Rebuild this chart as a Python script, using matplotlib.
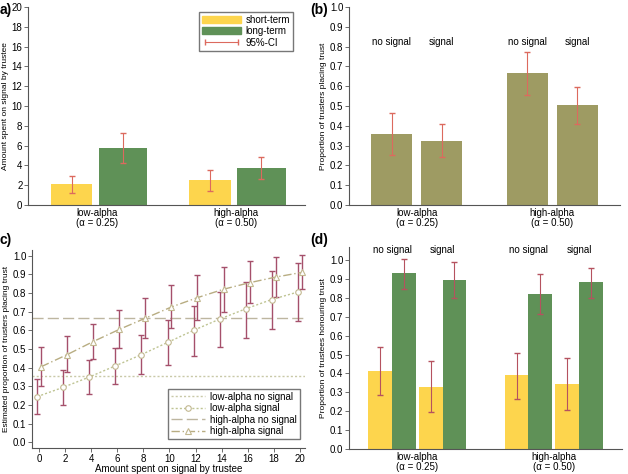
import numpy as np
import matplotlib.pyplot as plt
from matplotlib.lines import Line2D
from matplotlib.patches import Patch

plt.rcParams['font.family'] = ['Liberation Sans', 'DejaVu Sans']
plt.rcParams['font.size'] = 7

# Dados do painel a
grupos = ['low-alpha\n(\u03b1 = 0.25)', 'high-alpha\n(\u03b1 = 0.50)']
a_curto = [2.1, 2.5]
a_curto_ic = [(1.2, 2.9), (1.4, 3.5)]
a_longo = [5.8, 3.75]
a_longo_ic = [(4.2, 7.25), (2.6, 4.85)]

# Dados do painel b (no signal, signal) por grupo
sinais = ['no signal', 'signal']
b_val = [0.36, 0.325, 0.665, 0.505]
b_ic = [(0.25, 0.465), (0.24, 0.41), (0.555, 0.775), (0.41, 0.595)]

# Dados do painel c
gasto = [0, 2, 4, 6, 8, 10, 12, 14, 16, 18, 20]
c_baixo = [0.245, 0.295, 0.35, 0.41, 0.47, 0.535, 0.60, 0.66, 0.715, 0.765, 0.805]
c_baixo_inf = [0.15, 0.20, 0.26, 0.315, 0.365, 0.415, 0.465, 0.51, 0.56, 0.605, 0.65]
c_baixo_sup = [0.34, 0.39, 0.44, 0.505, 0.575, 0.655, 0.73, 0.805, 0.86, 0.92, 0.96]
c_alto = [0.405, 0.47, 0.54, 0.605, 0.665, 0.725, 0.775, 0.82, 0.855, 0.885, 0.91]
c_alto_inf = [0.30, 0.375, 0.445, 0.505, 0.56, 0.61, 0.655, 0.70, 0.745, 0.78, 0.82]
c_alto_sup = [0.51, 0.57, 0.635, 0.71, 0.775, 0.84, 0.895, 0.94, 0.97, 0.995, 1.005]
c_baixo_sem = 0.357
c_alto_sem = 0.665

# Dados do painel d: (short-term, long-term) para cada condição
d_curto = [0.415, 0.33, 0.39, 0.345]
d_curto_ic = [(0.285, 0.54), (0.195, 0.465), (0.265, 0.51), (0.205, 0.48)]
d_longo = [0.93, 0.895, 0.82, 0.885]
d_longo_ic = [(0.85, 1.005), (0.80, 0.99), (0.715, 0.925), (0.80, 0.96)]

amarelo = '#fdd54d'
verde = '#5f9157'
oliva = '#9e9b63'
vermelho = '#dc6a5e'
bordo = '#a5506b'


def erros(vals, ics):
    vals = np.array(vals)
    inf = np.array([i[0] for i in ics])
    sup = np.array([i[1] for i in ics])
    return np.vstack([vals - inf, sup - vals])


def estilo(ax):
    ax.spines['top'].set_visible(False)
    ax.spines['right'].set_visible(False)
    ax.spines['left'].set_color('#555555')
    ax.spines['bottom'].set_color('#555555')
    ax.tick_params(direction='out', length=3, width=0.6, color='#555555', labelsize=7, pad=1)


def rotulos_x(ax):
    ax.set_xticks(pos)
    ax.set_xticklabels(grupos, linespacing=1.05)
    ax.tick_params(axis='x', length=0, pad=2)


fig = plt.figure(figsize=(6.28, 4.74), dpi=100)
W, H = 628, 474


def eixo(esq, dir_, topo, base):
    return fig.add_axes([esq / W, 1 - base / H, (dir_ - esq) / W, (base - topo) / H])


pos = np.array([0, 1])
desl = 0.185
ticks01 = np.arange(0, 1.01, 0.1)
rot01 = [f'{v:.1f}' for v in ticks01]

# Painel a
ax = eixo(28, 305, 7, 205)
estilo(ax)
ax.bar(pos - desl, a_curto, width=0.3, color=amarelo)
ax.bar(pos + desl, a_longo, width=0.35, color=verde)
ax.errorbar(pos - desl, a_curto, yerr=erros(a_curto, a_curto_ic), fmt='none', ecolor=vermelho, elinewidth=0.8, capsize=2)
ax.errorbar(pos + desl, a_longo, yerr=erros(a_longo, a_longo_ic), fmt='none', ecolor=vermelho, elinewidth=0.8, capsize=2)
ax.set_xlim(-0.5, 1.5)
ax.set_ylim(0, 20)
ax.set_yticks(range(0, 21, 2))
rotulos_x(ax)
ax.set_ylabel('Amount spent on signal by trustee', fontsize=6, labelpad=2)
leg = [Patch(color=amarelo, label='short-term'), Patch(color=verde, label='long-term'),
       Line2D([0], [0], color=vermelho, lw=0.8, marker='|', markersize=4, label='95%-CI')]
ax.legend(handles=leg, loc='upper right', bbox_to_anchor=(0.975, 1.0), fontsize=7, frameon=True, fancybox=False,
          edgecolor='#555555', handlelength=4, borderpad=0.3, labelspacing=0.15, handletextpad=0.5,
          numpoints=2)
fig.text(0.0, 1 - 3 / H, 'a)', fontsize=10, fontweight='bold', va='top')

# Painel b
ax = eixo(349, 620, 7, 205)
estilo(ax)
xb = np.array([-desl, desl, 1 - desl, 1 + desl])
ax.bar(xb, b_val, width=0.3, color=oliva)
ax.errorbar(xb, b_val, yerr=erros(b_val, b_ic), fmt='none', ecolor=vermelho, elinewidth=0.8, capsize=2)
for i, x in enumerate(xb):
    ax.text(x, 0.8, sinais[i % 2], ha='center', va='bottom', fontsize=7)
ax.set_xlim(-0.5, 1.5)
ax.set_ylim(0, 1.0)
ax.set_yticks(ticks01)
ax.set_yticklabels(rot01)
rotulos_x(ax)
ax.set_ylabel('Proportion of trusters placing trust', fontsize=6, labelpad=2)
fig.text(310 / W, 1 - 3 / H, '(b)', fontsize=10, fontweight='bold', va='top')

# Painel c
ax = eixo(32, 305, 250, 448)
estilo(ax)
g = np.array(gasto)
ax.axhline(c_baixo_sem, color='#c9c9a8', lw=1, ls=(0, (1.5, 1.5)), label='low-alpha no signal')
ax.plot(g - 0.15, c_baixo, color='#bfc493', lw=1, ls=(0, (1.5, 1.5)), marker='o', markersize=4,
        markerfacecolor='white', markeredgecolor='#c2b890', markeredgewidth=0.8, label='low-alpha signal', zorder=3)
ax.axhline(c_alto_sem, color='#bdb6a0', lw=1, ls=(0, (8, 3)), label='high-alpha no signal')
ax.plot(g + 0.15, c_alto, color='#b8ad82', lw=1, ls=(0, (6, 2, 1, 2)), marker='^', markersize=4,
        markerfacecolor='white', markeredgecolor='#c2b890', markeredgewidth=0.8, label='high-alpha signal', zorder=3)
ax.errorbar(g - 0.15, c_baixo, yerr=erros(c_baixo, list(zip(c_baixo_inf, c_baixo_sup))), fmt='none',
            ecolor=bordo, elinewidth=1, capsize=2, zorder=2)
ax.errorbar(g + 0.15, c_alto, yerr=erros(c_alto, list(zip(c_alto_inf, c_alto_sup))), fmt='none',
            ecolor=bordo, elinewidth=1, capsize=2, zorder=2)
ax.set_xlim(-0.55, 20.4)
ax.set_ylim(-0.03, 1.03)
ax.set_xticks(gasto)
ax.set_yticks(ticks01)
ax.set_yticklabels(rot01)
ax.set_xlabel('Amount spent on signal by trustee', fontsize=7, labelpad=0)
ax.set_ylabel('Estimated proportion of trusters placing trust', fontsize=6, labelpad=2)
ax.legend(loc='lower right', bbox_to_anchor=(1.0, 0.02), fontsize=7, frameon=True, fancybox=False,
          edgecolor='#555555', handlelength=3.5, borderpad=0.3, labelspacing=0.15, handletextpad=0.6)
fig.text(0.0, 1 - 233 / H, 'c)', fontsize=10, fontweight='bold', va='top')

# Painel d
ax = eixo(349, 622, 247, 449)
estilo(ax)
w = 0.175
ax.bar(xb - w / 2, d_curto, width=w, color=amarelo)
ax.bar(xb + w / 2, d_longo, width=w, color=verde)
ax.errorbar(xb - w / 2, d_curto, yerr=erros(d_curto, d_curto_ic), fmt='none', ecolor='#b5525f', elinewidth=0.8, capsize=2)
ax.errorbar(xb + w / 2, d_longo, yerr=erros(d_longo, d_longo_ic), fmt='none', ecolor='#b5525f', elinewidth=0.8, capsize=2)
for i, x in enumerate(xb):
    ax.text(x, 1.03, sinais[i % 2], ha='center', va='bottom', fontsize=7)
ax.set_xlim(-0.5, 1.5)
ax.set_ylim(0, 1.07)
ax.set_yticks(ticks01)
ax.set_yticklabels(rot01)
rotulos_x(ax)
ax.set_ylabel('Proportion of trustees honouring trust', fontsize=6, labelpad=2)
fig.text(310 / W, 1 - 233 / H, '(d)', fontsize=10, fontweight='bold', va='top')

fig.savefig('out.png', dpi=100)
